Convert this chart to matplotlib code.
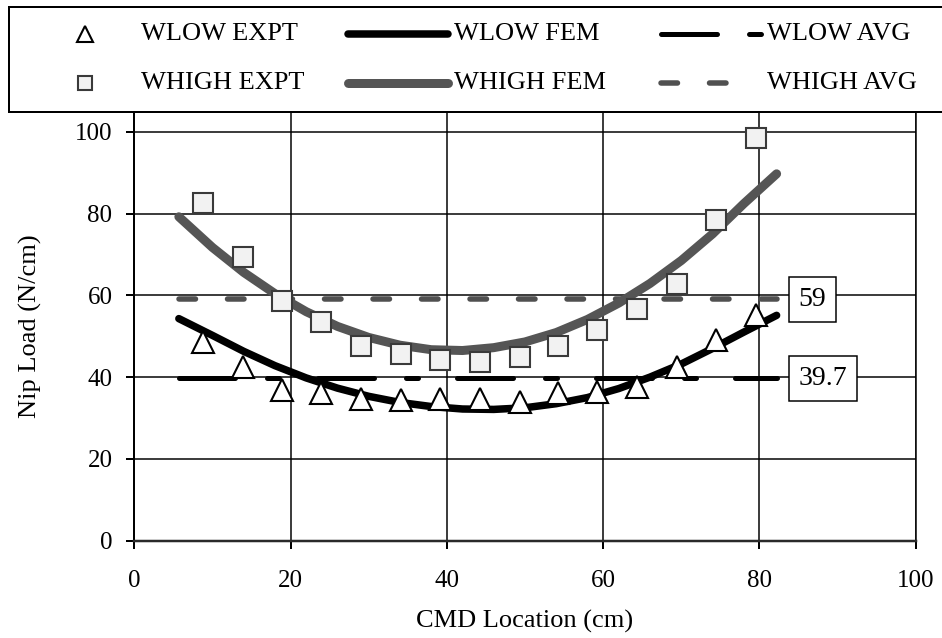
import matplotlib
matplotlib.use("Agg")
import matplotlib.pyplot as plt
from matplotlib.patches import Rectangle

plt.rcParams["font.family"] = ["Liberation Serif", "DejaVu Serif"]
plt.rcParams["lines.scale_dashes"] = False

# ---- data -------------------------------------------------------------
x_expt = [8.8, 13.9, 18.9, 23.9, 29.0, 34.1, 39.1, 44.2, 49.3, 54.2,
          59.2, 64.3, 69.4, 74.5, 79.6]
wlow_expt = [48.7, 42.4, 36.9, 36.2, 34.6, 34.4, 34.6, 34.6, 33.8, 36.0,
             36.4, 37.6, 42.5, 49.1, 55.2]
whigh_expt = [82.5, 69.3, 58.7, 53.5, 47.5, 45.6, 44.2, 43.7, 44.8, 47.5,
              51.6, 56.7, 62.7, 78.3, 98.5]

fem_x = [5.7, 10, 14, 18, 22, 26, 30, 34, 38, 42, 46, 50, 54, 58, 62,
         66, 70, 74, 78, 82.2]
wlow_fem = [54.3, 50.2, 46.3, 42.8, 39.8, 37.3, 35.3, 33.8, 32.8, 32.2,
            32.1, 32.5, 33.5, 35.0, 37.2, 40.0, 43.2, 47.0, 51.0, 55.1]
whigh_fem = [79.2, 71.7, 65.6, 60.4, 56.0, 52.4, 49.7, 47.8, 46.7, 46.5,
             47.2, 48.6, 50.9, 54.1, 58.1, 62.9, 68.5, 75.0, 82.4, 89.7]

wlow_avg = 39.7
whigh_avg = 59
avg_x = [fem_x[0], fem_x[-1]]

x_ticks = [0, 20, 40, 60, 80, 100]
y_ticks = [0, 20, 40, 60, 80, 100]

labels = ["WLOW EXPT", "WHIGH EXPT", "WLOW FEM", "WHIGH FEM",
          "WLOW AVG", "WHIGH AVG"]

# ---- styles -----------------------------------------------------------
PX = 0.72  # points per pixel at 100 dpi
st_wlow_expt = dict(linestyle="none", marker="^", ms=16, mfc="white",
                    mec="black", mew=1.5)
st_whigh_expt = dict(linestyle="none", marker="s", ms=14, mfc="#f2f2f2",
                     mec="#3a3a3a", mew=1.5)
st_wlow_fem = dict(color="black", lw=7.5 * PX, solid_capstyle="round")
st_whigh_fem = dict(color="#555555", lw=9 * PX, solid_capstyle="round")
st_wlow_avg = dict(color="black", lw=5 * PX, dash_capstyle="round",
                   linestyle=(0, (56 * PX, 32 * PX, 12 * PX, 39 * PX)))
st_whigh_avg = dict(color="#505050", lw=5.5 * PX, dash_capstyle="round",
                    linestyle=(0, (16.5 * PX, 32 * PX)))

W, H = 942, 638
fig = plt.figure(figsize=(W / 100, H / 100), dpi=100)
left, right, top, bottom = 134.3, 915.7, 112, 540.7
ax = fig.add_axes([left / W, 1 - bottom / H, (right - left) / W,
                   (bottom - top) / H])

ax.set_xlim(0, 100)
ax.set_ylim(0, 100 * (bottom - top) / (bottom - 131.7))
ax.set_xticks(x_ticks)
ax.set_yticks(y_ticks)
ax.set_axisbelow(True)
ax.grid(True, color="black", lw=1.5 * PX)

for side in ("left", "bottom", "right"):
    ax.spines[side].set_color("black")
ax.spines["left"].set_linewidth(2 * PX)
ax.spines["bottom"].set_linewidth(2.5 * PX)
ax.spines["bottom"].set_color("#2a2a2a")
ax.spines["right"].set_linewidth(1.5 * PX)
ax.spines["top"].set_visible(False)

ax.tick_params(direction="out", length=8 * PX, width=2 * PX,
               labelsize=18, colors="black")
ax.tick_params(axis="y", pad=10)
ax.tick_params(axis="x", pad=15)

ax.set_xlabel("CMD Location (cm)", fontsize=19, labelpad=13)
ax.set_ylabel("Nip Load (N/cm)", fontsize=19, labelpad=24)

# series
ax.plot(avg_x, [wlow_avg, wlow_avg], zorder=3, **st_wlow_avg)
ax.plot(avg_x, [whigh_avg, whigh_avg], zorder=3, **st_whigh_avg)
ax.plot(fem_x, wlow_fem, zorder=4, **st_wlow_fem)
ax.plot(fem_x, whigh_fem, zorder=4, **st_whigh_fem)
ax.plot(x_expt, wlow_expt, zorder=5, clip_on=False, **st_wlow_expt)
ax.plot(x_expt, whigh_expt, zorder=5, clip_on=False, **st_whigh_expt)

# average value labels
for val in (whigh_avg, wlow_avg):
    ax.text(85.0, val, f"{val:g}", ha="left", va="center", fontsize=20,
            zorder=10,
            bbox=dict(boxstyle="square,pad=0.35", fc="white", ec="black",
                      lw=1.5 * PX))

# ---- legend box across the top ---------------------------------------
lax = fig.add_axes([0, 0, 1, 1])
lax.set_xlim(0, W)
lax.set_ylim(H, 0)
lax.axis("off")
lax.add_patch(Rectangle((9, 7), W + 20, top - 7, fc="white", ec="black",
                        lw=2 * PX))

rows = [34, 83]
cols = [32, 345, 658]
hlen = 106
# (column, row, kind, style, sample length)
entries = [
    (0, 0, "marker", dict(st_wlow_expt, ms=12), hlen),
    (0, 1, "marker", dict(st_whigh_expt, ms=10), hlen),
    (1, 0, "line", st_wlow_fem, hlen),
    (1, 1, "line", st_whigh_fem, hlen),
    (2, 0, "line", st_wlow_avg, hlen),
    (2, 1, "line", st_whigh_avg, 74),
]
for label, (c, r, kind, st, seg) in zip(labels, entries):
    x0, y0 = cols[c], rows[r]
    if kind == "marker":
        lax.plot([x0 + hlen / 2], [y0], **st)
    else:
        lax.plot([x0 + 3, x0 + seg - 3], [y0, y0], **st)
    lax.text(x0 + hlen + 3, y0, label, ha="left", va="center", fontsize=19)

fig.savefig("out.png", dpi=100)
